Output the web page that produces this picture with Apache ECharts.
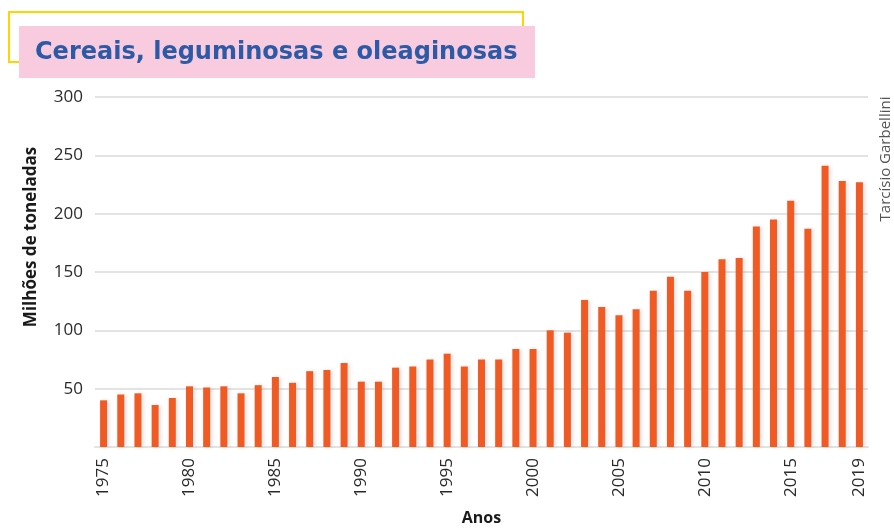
<!DOCTYPE html>
<html>
<head>
<meta charset="utf-8">
<script src="https://cdn.jsdelivr.net/npm/echarts@6/dist/echarts.min.js"></script>
<style>
  html, body { margin: 0; padding: 0; background: #ffffff; }
  #chart { width: 894px; height: 529px; }
</style>
</head>
<body>
<div id="chart"></div>
<script>
// Produção de grãos no Brasil (milhões de toneladas), 1975–2019
const years = [
  '1975','1976','1977','1978','1979','1980','1981','1982','1983','1984',
  '1985','1986','1987','1988','1989','1990','1991','1992','1993','1994',
  '1995','1996','1997','1998','1999','2000','2001','2002','2003','2004',
  '2005','2006','2007','2008','2009','2010','2011','2012','2013','2014',
  '2015','2016','2017','2018','2019'
];
const production = [
  40, 45, 46, 36, 42, 52, 51, 52, 46, 53,
  60, 55, 65, 66, 72, 56, 56, 68, 69, 75,
  80, 69, 75, 75, 84, 84, 100, 98, 126, 120,
  113, 118, 134, 146, 134, 150, 161, 162, 189, 195,
  211, 187, 241, 228, 227
];
const yTicks = [0, 50, 100, 150, 200, 250, 300];
const labeledYears = ['1975','1980','1985','1990','1995','2000','2005','2010','2015','2019'];

const chart = echarts.init(document.getElementById('chart'));

chart.setOption({
  backgroundColor: '#ffffff',
  animation: false,
  grid: { left: 95, right: 26, top: 97, bottom: 82, containLabel: false, outerBoundsMode: 'none' },
  graphic: [
    {
      type: 'rect',
      shape: { x: 9, y: 12, width: 514, height: 50 },
      style: { fill: 'none', stroke: '#FFD400', lineWidth: 2 }
    },
    {
      type: 'rect',
      shape: { x: 19, y: 26, width: 516, height: 52 },
      style: { fill: '#F8CBDF' }
    },
    {
      type: 'text',
      x: 35, y: 53,
      style: {
        text: 'Cereais, leguminosas e oleaginosas',
        font: 'bold 24px "DejaVu Sans", sans-serif',
        fill: '#2C5AA6',
        align: 'left',
        verticalAlign: 'middle'
      }
    },
    {
      type: 'text',
      x: 31, y: 237,
      rotation: Math.PI / 2,
      style: {
        text: 'Milhões de toneladas',
        font: 'bold 17px "Open Sans", Lato, sans-serif',
        fill: '#1a1a1a',
        align: 'center',
        verticalAlign: 'middle'
      }
    },
    {
      type: 'text',
      x: 886, y: 159,
      rotation: Math.PI / 2,
      style: {
        text: 'Tarcísio Garbellini',
        font: '15px "Open Sans", Lato, sans-serif',
        fill: '#555555',
        align: 'center',
        verticalAlign: 'middle'
      }
    }
  ],
  xAxis: {
    type: 'category',
    data: years,
    name: 'Anos',
    nameLocation: 'middle',
    nameGap: 63,
    nameTextStyle: { fontFamily: '"Open Sans", Lato, sans-serif', fontWeight: 'bold', fontSize: 16, color: '#1a1a1a' },
    axisLine: { show: true, lineStyle: { color: '#e3e3e3', width: 2 } },
    axisTick: { show: false },
    axisLabel: {
      rotate: 90,
      margin: 11,
      fontSize: 17,
      color: '#2a2a2a',
      fontFamily: '"Open Sans", Lato, sans-serif',
      interval: function (idx, value) { return labeledYears.indexOf(value) !== -1; }
    }
  },
  yAxis: {
    type: 'value',
    min: 0,
    max: 300,
    interval: 50,
    axisLine: { show: false },
    axisTick: { show: false },
    splitLine: { show: true, lineStyle: { color: '#e3e3e3', width: 2 } },
    axisLabel: {
      margin: 12,
      fontSize: 17,
      color: '#2a2a2a',
      fontFamily: '"Open Sans", Lato, sans-serif',
      formatter: function (v) { return (yTicks.indexOf(v) > 0) ? String(v) : ''; }
    }
  },
  series: [{
    type: 'bar',
    data: production,
    barWidth: 7,
    itemStyle: {
      color: '#F15A22',
      shadowColor: 'rgba(0,0,0,0.12)',
      shadowBlur: 4,
      shadowOffsetX: 2
    }
  }]
});
</script>
</body>
</html>
